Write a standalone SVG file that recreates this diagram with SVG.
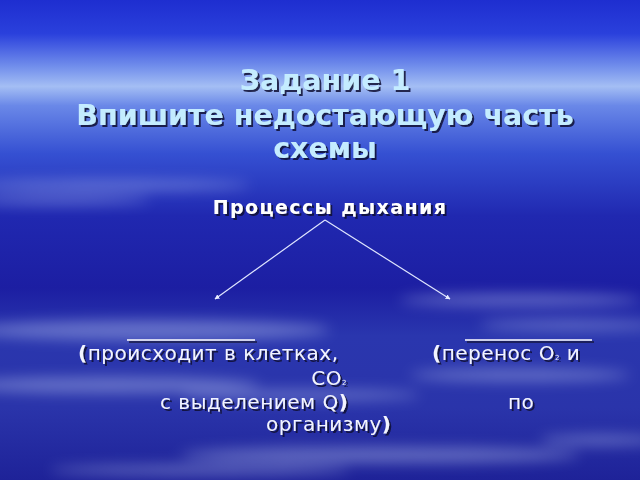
<svg xmlns="http://www.w3.org/2000/svg" width="640" height="480" viewBox="0 0 640 480">
<defs>
<linearGradient id="bg" x1="0" y1="0" x2="0" y2="1">
<stop offset="0" stop-color="#1e2ed0"/>
<stop offset="0.07" stop-color="#2a40dc"/>
<stop offset="0.14" stop-color="#7390ec"/>
<stop offset="0.18" stop-color="#a4bef4"/>
<stop offset="0.22" stop-color="#6a88e8"/>
<stop offset="0.32" stop-color="#3550d2"/>
<stop offset="0.45" stop-color="#2028b0"/>
<stop offset="0.6" stop-color="#1c1ea2"/>
<stop offset="0.7" stop-color="#2a36ae"/>
<stop offset="0.85" stop-color="#2a34aa"/>
<stop offset="1" stop-color="#1e2298"/>
</linearGradient>
<filter id="blur" x="-20%" y="-200%" width="140%" height="500%"><feGaussianBlur stdDeviation="7"/></filter>
<filter id="sh" x="-10%" y="-10%" width="120%" height="130%"><feDropShadow dx="2" dy="2" stdDeviation="0.6" flood-color="#0a0a30" flood-opacity="0.85"/></filter>
<marker id="ah" viewBox="0 0 10 10" refX="9" refY="5" markerWidth="5" markerHeight="5" orient="auto" markerUnits="userSpaceOnUse"><path d="M0,0 L10,5 L0,10 z" fill="#e8ecff"/></marker>
<style>
.title{font-family:"DejaVu Sans",sans-serif;font-weight:bold;font-size:28.5px;fill:#c4ecff;text-anchor:middle}
.sub{font-family:"DejaVu Sans",sans-serif;font-weight:bold;font-size:19px;letter-spacing:1.4px;fill:#ffffff;text-anchor:middle}
.body{font-family:"DejaVu Sans",sans-serif;font-size:20px;letter-spacing:0.5px;fill:#f2f4ff}
.b{font-weight:bold}
.s{font-size:7px}
.edge{stroke:#e0e6ff;stroke-width:1.2;fill:none}
.ul{stroke:#ffffff;stroke-width:1.5}
</style>
</defs>
<rect width="640" height="480" fill="url(#bg)"/>
<g opacity="0.35" filter="url(#blur)" fill="#d8e4ff">
<ellipse cx="110" cy="185" rx="140" ry="5"/>
<ellipse cx="60" cy="200" rx="90" ry="4"/>
<ellipse cx="520" cy="300" rx="120" ry="6"/>
<ellipse cx="570" cy="325" rx="90" ry="5"/>
<ellipse cx="150" cy="330" rx="180" ry="10"/>
<ellipse cx="110" cy="385" rx="150" ry="8"/>
<ellipse cx="300" cy="395" rx="120" ry="5"/>
<ellipse cx="520" cy="375" rx="110" ry="6"/>
<ellipse cx="380" cy="455" rx="200" ry="8"/>
<ellipse cx="200" cy="470" rx="150" ry="5"/>
<ellipse cx="600" cy="440" rx="60" ry="5"/>
</g>
<g id="title" filter="url(#sh)">
<text class="title" x="325" y="90">Задание 1</text>
<text class="title" x="325" y="125">Впишите недостающую часть</text>
<text class="title" x="325" y="158">схемы</text>
</g>
<g id="root" filter="url(#sh)">
<text class="sub" x="330" y="214">Процессы дыхания</text>
</g>
<g id="connectors">
<line class="edge" x1="325" y1="220" x2="215" y2="299" marker-end="url(#ah)"/>
<line class="edge" x1="325" y1="220" x2="450" y2="299" marker-end="url(#ah)"/>
</g>
<g id="left" filter="url(#sh)">
<line class="ul" x1="127" y1="340" x2="255" y2="340"/>
<text class="body" x="78" y="360"><tspan class="b">(</tspan>происходит в клетках,</text>
<text class="body" x="347" y="385" text-anchor="end" font-size="16">CO<tspan class="s">2</tspan></text>
<text class="body" x="160" y="409">с выделением Q<tspan class="b">)</tspan></text>
<text class="body" x="266" y="431">организму<tspan class="b">)</tspan></text>
</g>
<g id="right" filter="url(#sh)">
<line class="ul" x1="465" y1="340" x2="592" y2="340"/>
<text class="body" x="432" y="360"><tspan class="b">(</tspan>перенос O<tspan class="s">2</tspan> и</text>
<text class="body" x="508" y="409">по</text>
</g>
</svg>
